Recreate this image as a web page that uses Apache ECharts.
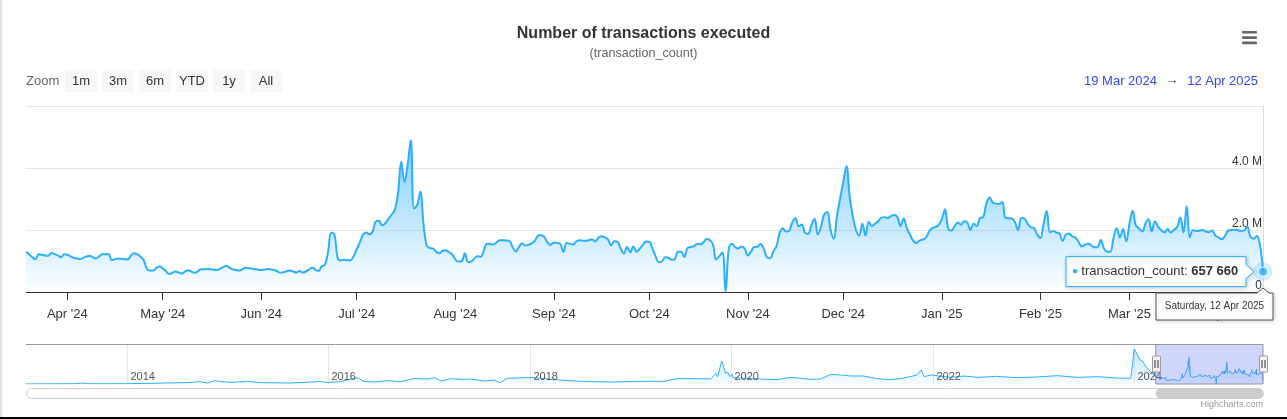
<!DOCTYPE html>
<html>
<head>
<meta charset="utf-8">
<script src="https://cdn.jsdelivr.net/npm/echarts@6/dist/echarts.min.js"></script>
<style>
html,body{margin:0;padding:0;background:#fff;}
#wrap{position:relative;width:1287px;height:419px;overflow:hidden;}
#chart{position:absolute;left:0;top:0;width:1287px;height:419px;}
.edgeL{position:absolute;left:0;top:0;width:2px;height:419px;background:#e3e3e3;}
.edgeB{position:absolute;left:0;top:417px;width:1287px;height:2px;background:#000;}
</style>
</head>
<body>
<div id="wrap"><div id="chart"></div><div class="edgeL"></div><div class="edgeB"></div></div>
<script>
// ---------------- DATA ----------------
const chartTitle = 'Number of transactions executed';
const chartSubtitle = '(transaction_count)';
const seriesName = 'transaction_count';
const startDate = '2024-03-19';           // first daily point
// daily transaction counts, in millions, 19 Mar 2024 .. 12 Apr 2025
const dailyValuesM = [
1.30,1.22,1.12,1.06,1.22,1.20,1.18,1.17,1.26,1.22,
1.18,1.12,1.22,1.20,1.15,1.10,1.08,1.06,1.10,1.14,
1.17,1.12,1.08,1.15,1.22,1.22,1.22,1.03,1.06,1.08,
1.07,1.06,1.05,1.18,1.25,1.22,1.14,1.03,0.75,0.69,
0.69,0.78,0.82,0.76,0.68,0.58,0.62,0.66,0.63,0.60,
0.66,0.70,0.66,0.62,0.66,0.73,0.73,0.74,0.73,0.72,
0.71,0.75,0.80,0.85,0.78,0.73,0.71,0.69,0.73,0.78,
0.77,0.76,0.74,0.72,0.71,0.72,0.74,0.73,0.71,0.67,
0.62,0.64,0.67,0.69,0.66,0.63,0.68,0.63,0.66,0.72,
0.78,0.72,0.68,0.83,0.88,1.30,1.92,1.85,1.10,1.02,
1.04,1.03,1.02,1.15,1.38,1.60,1.85,1.92,1.86,1.95,
2.28,2.30,2.15,2.22,2.36,2.50,2.65,3.20,4.20,3.55,
4.10,4.90,2.70,2.80,3.23,2.20,1.50,1.42,1.40,1.30,
1.25,1.33,1.35,1.28,1.22,1.05,0.98,0.99,1.25,0.97,
0.98,1.08,1.15,1.14,1.35,1.56,1.55,1.53,1.60,1.67,
1.67,1.66,1.65,1.45,1.31,1.45,1.57,1.50,1.52,1.57,
1.65,1.82,1.84,1.77,1.60,1.52,1.60,1.58,1.56,1.29,
1.58,1.56,1.53,1.62,1.67,1.66,1.65,1.67,1.70,1.63,
1.75,1.80,1.76,1.70,1.50,1.64,1.62,1.40,1.24,1.45,
1.28,1.47,1.30,1.40,1.52,1.63,1.62,1.40,1.15,0.96,
0.99,1.12,1.10,1.04,1.06,1.30,1.30,1.13,1.42,1.45,
1.47,1.55,1.54,1.60,1.71,1.68,1.55,1.05,1.15,1.28,
0.02,1.40,1.56,1.45,1.40,1.47,1.40,1.18,1.30,1.45,
1.46,1.55,1.40,1.12,1.09,1.30,1.48,1.90,2.06,1.95,
1.98,2.25,2.38,2.12,2.18,1.90,1.88,2.15,2.36,1.85,
2.10,2.50,2.58,2.00,1.72,2.44,3.00,3.55,4.06,3.10,
2.44,2.00,1.82,2.20,1.82,2.27,2.13,2.20,2.28,2.40,
2.41,2.39,2.45,2.48,2.42,2.13,2.37,2.05,1.85,1.65,
1.58,1.66,1.69,1.75,1.95,2.06,2.10,2.16,2.35,2.67,
2.05,1.98,2.12,2.24,2.17,2.28,2.25,2.00,2.20,2.13,
2.39,2.42,2.85,3.05,2.89,2.85,2.84,2.90,2.39,2.38,
2.37,2.25,2.00,2.39,2.37,2.20,2.09,2.06,1.85,1.74,
2.20,2.61,1.92,1.97,1.92,1.88,1.65,1.85,1.89,1.79,
1.76,1.62,1.47,1.52,1.56,1.50,1.44,1.45,1.68,1.40,
1.30,1.30,1.75,2.06,1.76,2.03,1.64,2.20,2.62,2.15,
2.05,1.95,2.20,2.35,1.95,2.28,2.10,2.00,1.92,2.03,
1.92,2.01,2.09,2.40,1.92,2.77,1.76,2.00,1.97,1.98,
2.00,1.95,1.93,1.98,1.82,1.76,1.70,1.80,1.98,2.00,
2.01,2.00,1.97,1.98,2.11,1.79,1.72,1.81,1.55,0.65766
];
// longer history shown in the navigator (millions)
const historyDates = ['2013-01-01','2013-04-01','2013-07-01','2013-07-22','2013-08-10','2013-10-01',
'2014-01-01','2014-04-01','2014-06-01','2014-08-01','2014-09-25','2014-10-20','2014-11-15','2014-12-10',
'2015-01-20','2015-03-15','2015-05-01','2015-06-15','2015-08-10','2015-10-20','2015-12-05','2015-12-28',
'2016-02-15','2016-04-15','2016-05-10','2016-06-15','2016-08-05','2016-09-20','2016-11-05','2016-12-28',
'2017-01-20','2017-02-15','2017-03-20','2017-05-01','2017-06-01','2017-07-20','2017-08-25','2017-09-15','2017-10-12','2017-12-10',
'2018-01-05','2018-04-20','2018-07-05','2018-10-20',
'2019-02-15','2019-05-01','2019-06-20','2019-09-01','2019-10-20','2019-11-06','2019-11-13','2019-11-28','2019-12-12','2019-12-20','2019-12-28',
'2020-01-04','2020-01-08','2020-04-15','2020-06-15','2020-08-05','2020-10-15','2020-11-20','2020-12-28',
'2021-02-01','2021-03-10','2021-04-25','2021-06-15','2021-08-01','2021-09-15','2021-11-05','2021-11-20','2021-12-01','2021-12-25',
'2022-03-05','2022-04-25','2022-06-15','2022-08-20','2022-11-01',
'2023-01-15','2023-03-28','2023-06-10','2023-08-20','2023-10-30','2023-12-20',
'2024-01-01','2024-01-10','2024-01-22','2024-02-01','2024-02-15','2024-03-05'];
const historyValuesM = [0.02,0.03,0.05,0.18,0.05,0.05,
0.06,0.12,0.20,0.25,0.43,0.18,0.62,0.43,
0.31,0.49,0.25,0.22,0.19,0.31,0.49,0.25,
0.45,1.17,0.49,0.37,0.62,0.43,1.00,0.93,
1.17,0.55,0.99,0.85,0.93,0.55,0.74,0.25,1.05,1.17,
1.23,0.74,0.49,0.37,
0.49,0.49,0.99,0.99,0.93,1.98,1.36,4.26,1.98,2.17,1.36,
1.79,1.17,0.93,0.80,1.23,0.86,0.93,1.79,
1.67,1.48,1.48,0.99,0.80,1.05,1.67,2.60,1.36,1.67,
1.23,1.48,1.23,1.42,1.17,
1.30,1.54,1.23,1.36,1.11,1.05,
6.50,5.70,4.50,4.20,3.00,2.10];
const navigatorStart = '2013-01-01';
const navigatorYears = [2014, 2016, 2018, 2020, 2022, 2024];
const zoomButtons = ['1m', '3m', '6m', 'YTD', '1y', 'All'];
const yAxisMax = 6e6, yAxisStep = 2e6;
const navigatorMax = 7.4e6;
const creditText = 'Highcharts.com';

// ---------------- HELPERS ----------------
const DAY = 86400000;
const MONTHS = ['Jan','Feb','Mar','Apr','May','Jun','Jul','Aug','Sep','Oct','Nov','Dec'];
const WEEKDAYS = ['Sunday','Monday','Tuesday','Wednesday','Thursday','Friday','Saturday'];
const FONT = '"Liberation Sans", Arial, Helvetica, sans-serif';
const BLUE = '#2caffe';
const t0 = Date.parse(startDate + 'T00:00:00Z');
const mainData = dailyValuesM.map((v, i) => [t0 + i * DAY, Math.round(v * 1e6)]);
const tEnd = mainData[mainData.length - 1][0];
const lastPoint = mainData[mainData.length - 1];
const historyData = historyDates.map((d, i) => [Date.parse(d + 'T00:00:00Z'), Math.round(historyValuesM[i] * 1e6)]);
const navData = historyData.concat(mainData);
const navT0 = Date.parse(navigatorStart + 'T00:00:00Z');
function fmtThousands(n){ return String(Math.round(n)).replace(/\B(?=(\d{3})+(?!\d))/g, ' '); }
function fmtDay(t){ const d = new Date(t); return d.getUTCDate() + ' ' + MONTHS[d.getUTCMonth()] + ' ' + d.getUTCFullYear(); }
function fmtLong(t){ const d = new Date(t); return WEEKDAYS[d.getUTCDay()] + ', ' + fmtDay(t); }

const chart = echarts.init(document.getElementById('chart'), null, {renderer: 'canvas'});
const option = {
  animation: false,
  useUTC: true,
  backgroundColor: '#ffffff',
  textStyle: {fontFamily: FONT},
  title: {
    text: chartTitle, subtext: chartSubtitle, left: 'center', top: 19, itemGap: 2,
    textStyle: {fontSize: 16, fontWeight: 'bold', color: '#333333', fontFamily: FONT, lineHeight: 20},
    subtextStyle: {fontSize: 12.6, color: '#666666', fontFamily: FONT, lineHeight: 16}
  },
  grid: [
    {left: 26, right: 24, top: 106, height: 186, containLabel: false},
    {left: 26, right: 24, top: 344, height: 40, containLabel: false}
  ],
  xAxis: [
    {
      type: 'time', gridIndex: 0, min: t0, max: tEnd, splitNumber: 13,
      axisLine: {show: true, lineStyle: {color: '#333333', width: 1}},
      axisTick: {show: true, length: 8, lineStyle: {color: '#333333'}},
      axisLabel: {
        color: '#333333', fontSize: 13, fontFamily: FONT, margin: 16, hideOverlap: false,
        formatter: function (v) { const d = new Date(v); return MONTHS[d.getUTCMonth()] + " '" + String(d.getUTCFullYear()).slice(2); }
      },
      splitLine: {show: false}, minorTick: {show: false}
    },
    {
      type: 'time', gridIndex: 1, min: navT0, max: tEnd,
      axisLine: {show: false}, axisTick: {show: false}, axisLabel: {show: false}, splitLine: {show: false}
    }
  ],
  yAxis: [
    {
      type: 'value', gridIndex: 0, position: 'right', min: 0, max: yAxisMax, interval: yAxisStep,
      axisLine: {show: true, lineStyle: {color: '#dddddd'}},
      axisTick: {show: false},
      splitLine: {show: true, lineStyle: {color: '#e6e6e6', width: 1}},
      axisLabel: {
        inside: true, margin: 1, verticalAlign: 'bottom', color: '#333333', fontSize: 12, fontFamily: FONT,
        showMaxLabel: false,
        formatter: function (v) { return v === 0 ? '0' : (v / 1e6).toFixed(1) + ' M'; }
      }
    },
    {
      type: 'value', gridIndex: 1, min: 0, max: navigatorMax,
      axisLine: {show: false}, axisTick: {show: false}, axisLabel: {show: false}, splitLine: {show: false}
    }
  ],
  series: [
    {
      name: seriesName, type: 'line', xAxisIndex: 0, yAxisIndex: 0, data: mainData,
      showSymbol: false, smooth: 0.4, z: 3,
      lineStyle: {color: BLUE, width: 2},
      itemStyle: {color: BLUE},
      areaStyle: {
        color: new echarts.graphic.LinearGradient(0, 0, 0, 1, [
          {offset: 0, color: 'rgba(44,175,254,0.85)'},
          {offset: 1, color: 'rgba(44,175,254,0.02)'}
        ])
      }
    },
    {
      type: 'scatter', xAxisIndex: 0, yAxisIndex: 0, data: [lastPoint], symbolSize: 19, z: 4, silent: true,
      itemStyle: {color: 'rgba(44,175,254,0.25)'}
    },
    {
      type: 'scatter', xAxisIndex: 0, yAxisIndex: 0, data: [lastPoint], symbolSize: 9, z: 5, silent: true,
      itemStyle: {color: BLUE, borderColor: '#ffffff', borderWidth: 1}
    },
    {
      type: 'line', xAxisIndex: 1, yAxisIndex: 1, data: navData, showSymbol: false, z: 2,
      lineStyle: {color: BLUE, width: 1},
      areaStyle: {
        color: new echarts.graphic.LinearGradient(0, 0, 0, 1, [
          {offset: 0, color: 'rgba(44,175,254,0.45)'},
          {offset: 1, color: 'rgba(44,175,254,0.06)'}
        ])
      }
    }
  ]
};
chart.setOption(option);

// ---------- decorations positioned from the chart's own scales ----------
const g = [];
function txt(text, x, y, opt) {
  const o = Object.assign({fontSize: 13, fill: '#333333', align: 'left', vAlign: 'middle', weight: 'normal', z: 50}, opt || {});
  return {type: 'text', z: o.z, style: {text: text, x: x, y: y, fill: o.fill, fontSize: o.fontSize, fontFamily: FONT,
    fontWeight: o.weight, align: o.align, textAlign: o.align, verticalAlign: o.vAlign, textVerticalAlign: o.vAlign}};
}
// menu icon
for (let i = 0; i < 3; i++) {
  g.push({type: 'rect', z: 50, shape: {x: 1242, y: 31 + i * 5.3, width: 15, height: 2.6, r: 1}, style: {fill: '#666666'}});
}
// range selector
g.push(txt('Zoom', 26, 81, {fill: '#666666'}));
zoomButtons.forEach((b, i) => {
  const bx = 65 + i * 37;
  g.push({type: 'rect', z: 50, shape: {x: bx, y: 70, width: 32, height: 22, r: 2}, style: {fill: '#f7f7f7'}});
  g.push(txt(b, bx + 16, 81, {align: 'center'}));
});
// date range
g.push(txt(fmtDay(tEnd), 1258, 81, {align: 'right', fill: '#3346f2'}));
g.push(txt('\u2192', 1172, 80, {align: 'center', fill: '#444444'}));
g.push(txt(fmtDay(t0), 1157, 81, {align: 'right', fill: '#3346f2'}));

// navigator
const nTop = chart.convertToPixel({gridIndex: 1}, [navT0, navigatorMax])[1];
const nBot = chart.convertToPixel({gridIndex: 1}, [navT0, 0])[1];
const nLeft = chart.convertToPixel({gridIndex: 1}, [navT0, 0])[0];
const nRight = chart.convertToPixel({gridIndex: 1}, [tEnd, 0])[0];
const mx0 = chart.convertToPixel({gridIndex: 1}, [t0, 0])[0];
const mx1 = nRight;
navigatorYears.forEach(y => {
  const x = Math.round(chart.convertToPixel({gridIndex: 1}, [Date.UTC(y, 0, 1), 0])[0]) + 0.5;
  g.push({type: 'line', z: 0, shape: {x1: x, y1: nTop, x2: x, y2: nBot}, style: {stroke: '#e6e6e6', lineWidth: 1}});
  g.push(txt(String(y), x + 3, nBot - 7, {fontSize: 11, fill: '#555555', z: 8}));
});
g.push({type: 'rect', z: 10, shape: {x: mx0, y: nTop, width: mx1 - mx0, height: nBot - nTop}, style: {fill: 'rgba(100,120,240,0.30)'}});
g.push({type: 'line', z: 11, shape: {x1: nLeft, y1: nTop + 0.5, x2: nRight, y2: nTop + 0.5}, style: {stroke: '#999999', lineWidth: 1}});
g.push({type: 'polyline', z: 11, shape: {points: [[mx0, nTop], [mx0, nBot], [mx1, nBot], [mx1, nTop]]}, style: {stroke: '#999999', lineWidth: 1, fill: null}});
[mx0, mx1].forEach(x => {
  const hx = Math.round(x) - 4 + 0.5;
  const cy = (nTop + nBot) / 2;
  g.push({type: 'rect', z: 12, shape: {x: hx, y: cy - 8, width: 8, height: 16, r: 1}, style: {fill: '#f2f2f2', stroke: '#999999', lineWidth: 1}});
  g.push({type: 'line', z: 13, shape: {x1: hx + 2.5, y1: cy - 4, x2: hx + 2.5, y2: cy + 4}, style: {stroke: '#333333', lineWidth: 1}});
  g.push({type: 'line', z: 13, shape: {x1: hx + 5.5, y1: cy - 4, x2: hx + 5.5, y2: cy + 4}, style: {stroke: '#333333', lineWidth: 1}});
});
// scrollbar
g.push({type: 'rect', z: 10, shape: {x: nLeft + 0.5, y: nBot + 4.5, width: nRight - nLeft, height: 10, r: 5}, style: {fill: '#ffffff', stroke: '#cccccc', lineWidth: 1}});
g.push({type: 'rect', z: 11, shape: {x: mx0, y: nBot + 4.5, width: mx1 - mx0, height: 10, r: 5}, style: {fill: '#cccccc'}});
g.push(txt(creditText, nRight, nBot + 21, {fontSize: 9, fill: '#999999', align: 'right'}));

// tooltip for the last point
const lp = chart.convertToPixel({gridIndex: 0}, lastPoint);
const tipW = 180, tipH = 30;
const tR = lp[0] - 17, tL = tR - tipW, tT = lp[1] - tipH / 2, tB = lp[1] + tipH / 2;
g.push({type: 'polygon', z: 60, shape: {points: [[tL, tT], [tR, tT], [tR, lp[1] - 7], [lp[0] - 9, lp[1]], [tR, lp[1] + 7], [tR, tB], [tL, tB]]},
  style: {fill: 'rgba(255,255,255,0.97)', stroke: BLUE, lineWidth: 1, shadowBlur: 4, shadowColor: 'rgba(0,0,0,0.18)', shadowOffsetX: 1, shadowOffsetY: 1}});
g.push({type: 'text', z: 61, style: {
  text: '{dot|\u25CF} {lab|' + seriesName + ': }{val|' + fmtThousands(lastPoint[1]) + '}',
  x: tL + 6, y: lp[1], align: 'left', verticalAlign: 'middle', textVerticalAlign: 'middle', fontFamily: FONT,
  rich: {
    dot: {fill: BLUE, color: BLUE, fontSize: 10, fontFamily: FONT},
    lab: {fill: '#333333', color: '#333333', fontSize: 13, fontFamily: FONT},
    val: {fill: '#333333', color: '#333333', fontSize: 13, fontWeight: 'bold', fontFamily: FONT}
  }}});
// date header box under the axis
const axisY = chart.convertToPixel({gridIndex: 0}, [t0, 0])[1];
const hW = 117, hH = 27;
const hR = Math.min(lp[0] + hW / 2, 1273), hL = hR - hW, hT = axisY + 1, hB = hT + hH;
g.push({type: 'polygon', z: 60, shape: {points: [[hL, hT], [lp[0] - 6, hT], [lp[0], hT - 5], [Math.min(lp[0] + 6, hR), hT], [hR, hT], [hR, hB], [hL, hB]]},
  style: {fill: '#ffffff', stroke: '#555555', lineWidth: 1, shadowBlur: 4, shadowColor: 'rgba(0,0,0,0.18)', shadowOffsetX: 1, shadowOffsetY: 1}});
g.push(txt(fmtLong(tEnd), (hL + hR) / 2, hT + hH / 2, {fontSize: 10, align: 'center', z: 61}));

chart.setOption({graphic: {elements: g}});
</script>
</body>
</html>
